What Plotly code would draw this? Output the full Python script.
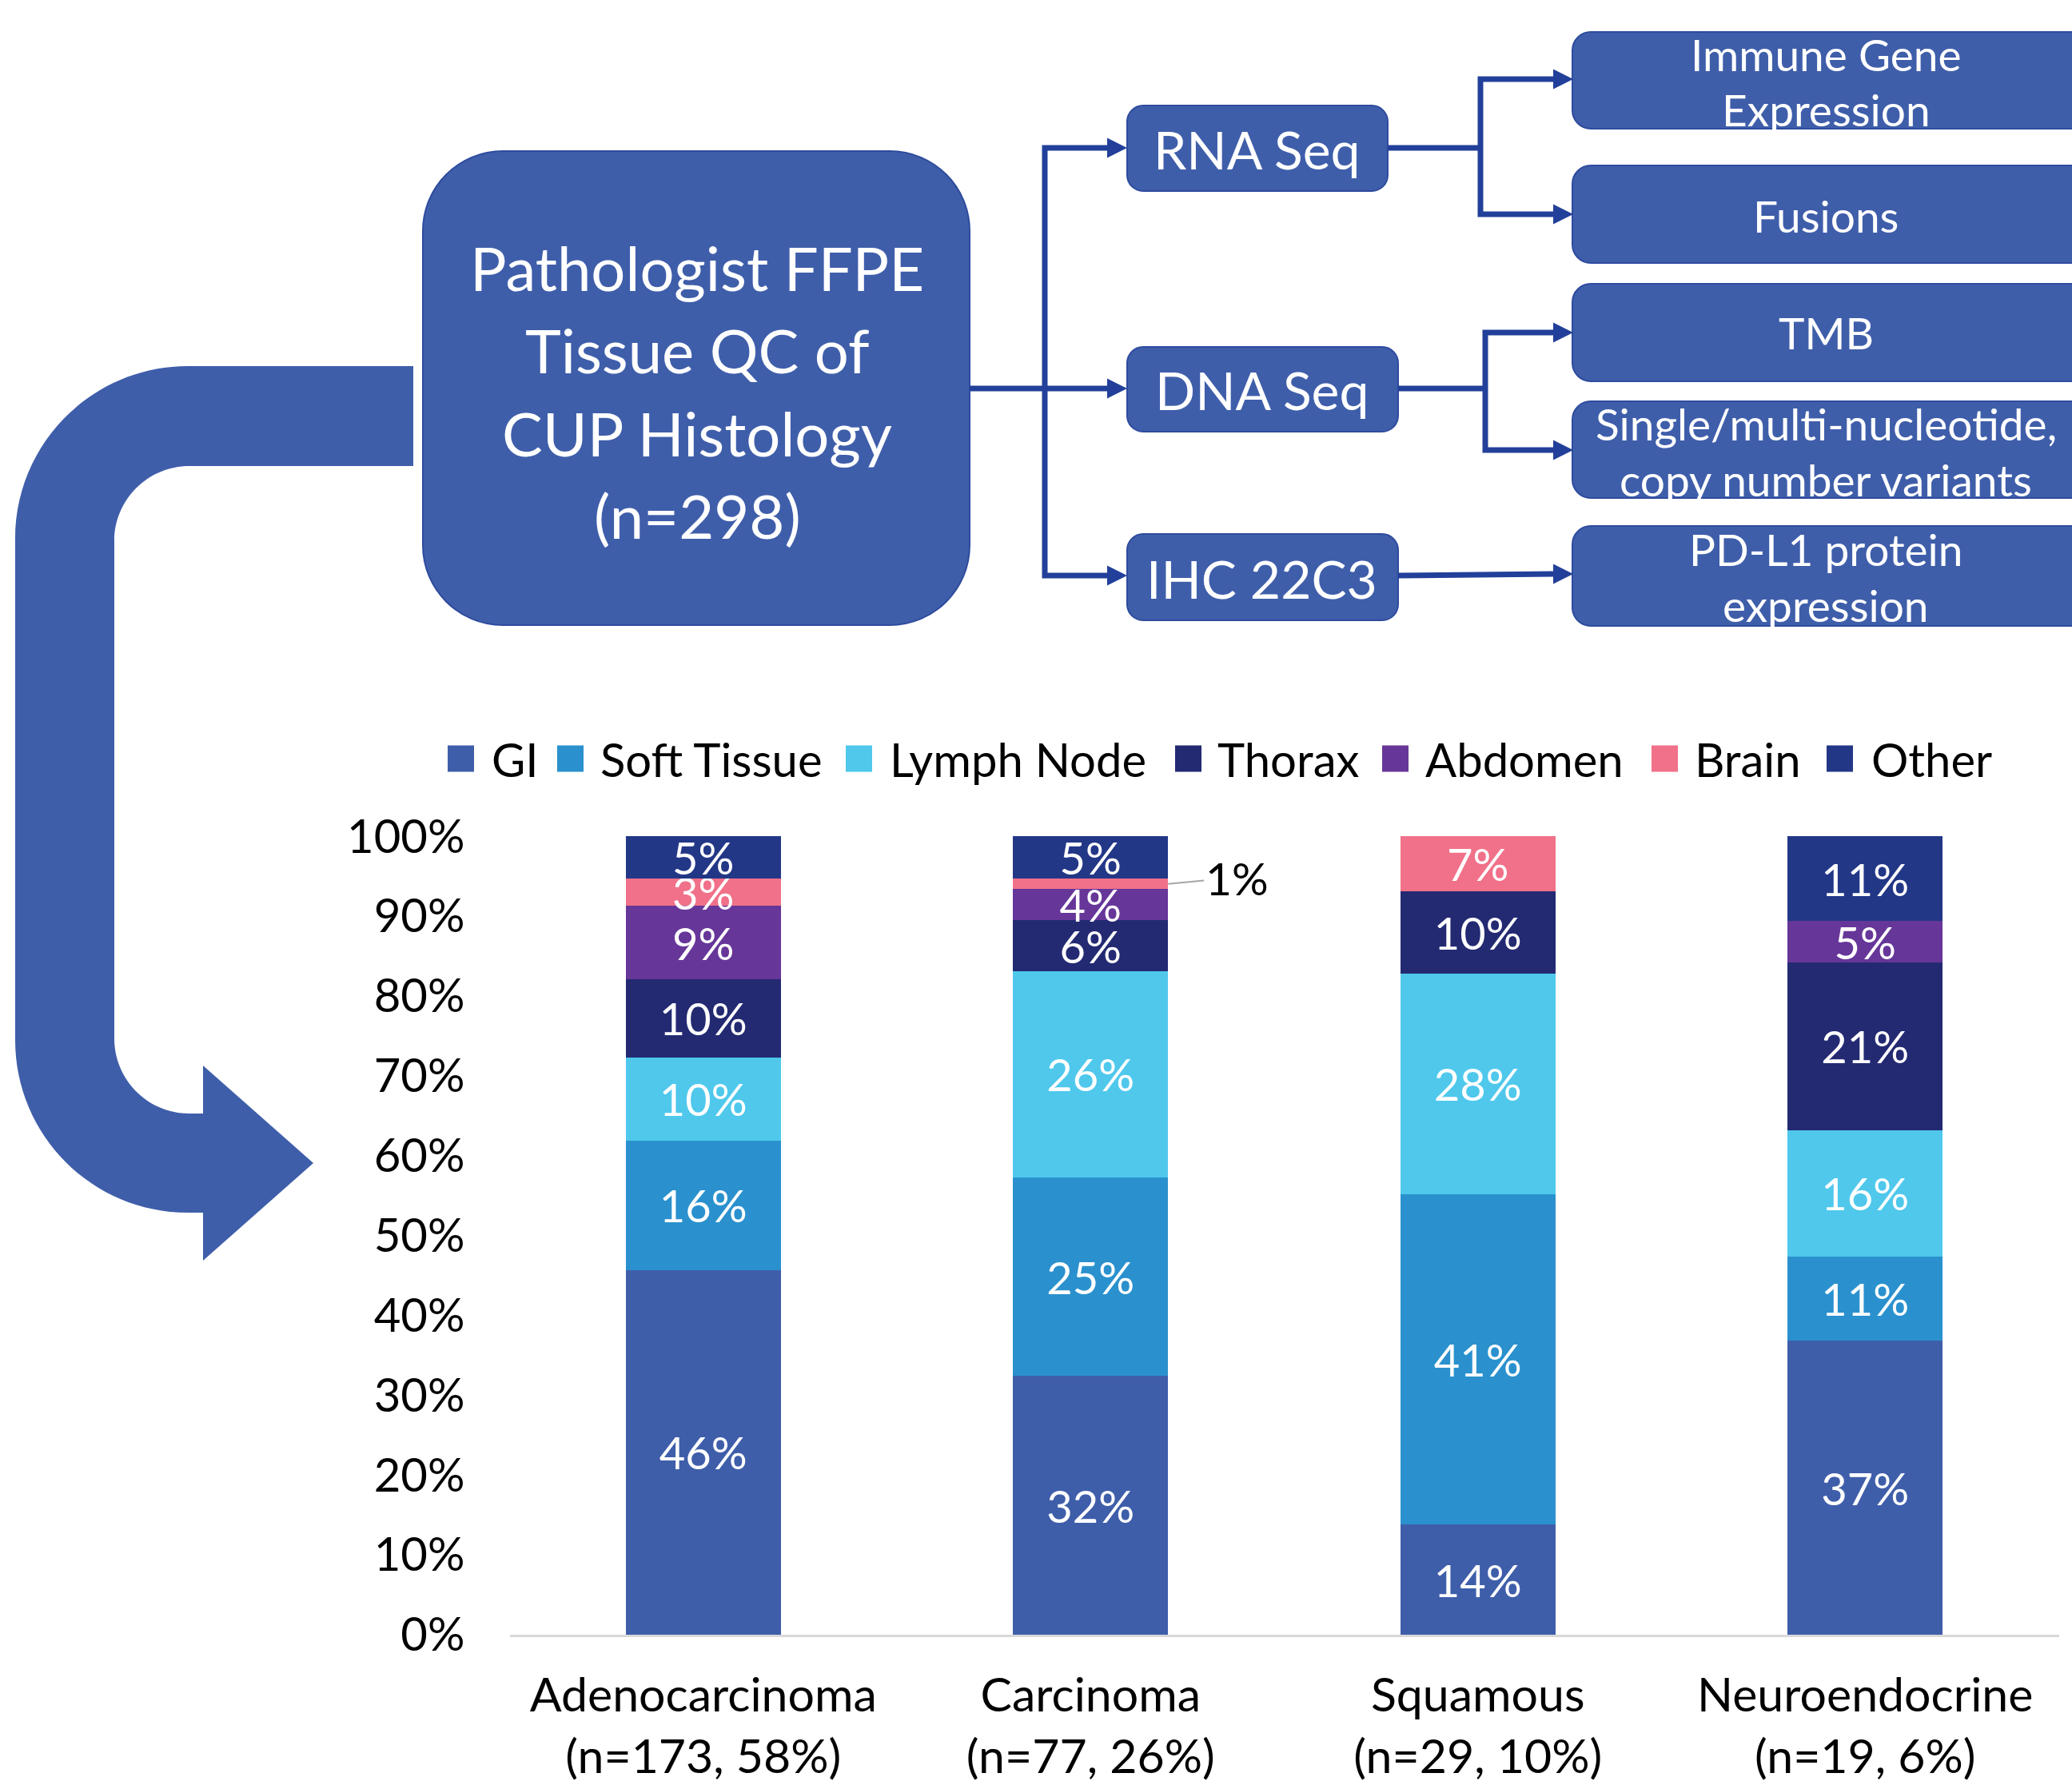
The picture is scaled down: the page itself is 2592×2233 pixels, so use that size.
import plotly.graph_objects as go

W, H = 2592, 2233
FONT = "Lato, Carlito, Calibri, sans-serif"

# ---------------- data ----------------
categories = ["Adenocarcinoma", "Carcinoma", "Squamous", "Neuroendocrine"]
category_counts = ["(n=173, 58%)", "(n=77, 26%)", "(n=29, 10%)", "(n=19, 6%)"]
sites = ["GI", "Soft Tissue", "Lymph Node", "Thorax", "Abdomen", "Brain", "Other"]
gi = [45.7, 32.4, 13.8, 36.8]
soft_tissue = [16.2, 24.9, 41.4, 10.6]
lymph_node = [10.4, 25.8, 27.6, 15.8]
thorax = [9.8, 6.4, 10.3, 21.0]
abdomen = [9.2, 3.9, 0.0, 5.2]
brain = [3.4, 1.3, 6.9, 0.0]
other = [5.3, 5.3, 0.0, 10.6]
y_ticks = [0, 10, 20, 30, 40, 50, 60, 70, 80, 90, 100]

main_box_lines = ["Pathologist FFPE", "Tissue QC of", "CUP Histology", "(n=298)"]
assay_labels = ["RNA Seq", "DNA Seq", "IHC 22C3"]
readout_labels = [["Immune Gene", "Expression"], ["Fusions"], ["TMB"],
                  ["Single/multi-nucleotide,", "copy number variants"],
                  ["PD-L1 protein", "expression"]]

# ---------------- styles ----------------
site_colors = ["#3F5EAA", "#2A91CE", "#4FC8EC", "#232A72", "#663699", "#F07189", "#233787"]
BOX = "#3F5EAA"
BOX_EDGE = "#2E4B9E"
LINK = "#22409A"

series = [gi, soft_tissue, lymph_node, thorax, abdomen, brain, other]

fig = go.Figure()
for name, vals, col in zip(sites, series, site_colors):
    texts = [f"{v:.0f}%" if v > 0 else "" for v in vals]
    if name == "Brain":
        texts[1] = ""  # labelled outside with a leader line
    fig.add_trace(go.Bar(
        name=name, x=categories, y=vals, marker=dict(color=col, line=dict(width=0)),
        text=texts, textposition="inside", insidetextanchor="middle", textangle=0,
        constraintext="none", textfont=dict(family=FONT, size=56, color="white"),
        showlegend=False, hoverinfo="skip", cliponaxis=False,
    ))

# outside label for small brain segment of Carcinoma
brain_mid = gi[1] + soft_tissue[1] + lymph_node[1] + thorax[1] + abdomen[1] + brain[1] / 2
fig.add_annotation(x=1.2, y=brain_mid, xref="x", yref="y", text=f"{brain[1]:.0f}%",
                   showarrow=True, arrowhead=0, arrowwidth=2, arrowcolor="#A6A6A6",
                   ax=86, ay=-8, standoff=0, font=dict(family=FONT, size=57, color="black"))

x0d, x1d = 637.5 / W, 2575.5 / W
y0d, y1d = 1 - 2045 / H, 1 - 1046 / H

fig.update_layout(
    width=W, height=H, margin=dict(l=0, r=0, t=0, b=0, autoexpand=False),
    paper_bgcolor="white", plot_bgcolor="white",
    barmode="stack", bargap=0.6,
    font=dict(family=FONT, color="black"),
    xaxis=dict(domain=[x0d, x1d], tickvals=categories, automargin=False,
               ticktext=[f"{c}<br>{n}" for c, n in zip(categories, category_counts)],
               tickfont=dict(family=FONT, size=59, color="black"),
               showline=True, linecolor="#D9D9D9", linewidth=3, ticks="",
               showgrid=False, zeroline=False, ticklabelstandoff=22),
    yaxis=dict(domain=[y0d, y1d], range=[0, 100.02], tickvals=y_ticks, automargin=False,
               ticktext=[f"{t}%" for t in y_ticks],
               tickfont=dict(family=FONT, size=58, color="black"),
               showline=False, showgrid=False, zeroline=False, ticks="",
               ticklabelstandoff=55),
)


# ---------------- helpers for drawing in pixel space ----------------
def pt(x, y):
    return f"{x / W:.6f},{1 - y / H:.6f}"


def roundrect(x0, y0, x1, y1, r):
    k = 0.5523 * r
    return (f"M{pt(x0 + r, y0)} L{pt(x1 - r, y0)} "
            f"C{pt(x1 - r + k, y0)} {pt(x1, y0 + r - k)} {pt(x1, y0 + r)} "
            f"L{pt(x1, y1 - r)} C{pt(x1, y1 - r + k)} {pt(x1 - r + k, y1)} {pt(x1 - r, y1)} "
            f"L{pt(x0 + r, y1)} C{pt(x0 + r - k, y1)} {pt(x0, y1 - r + k)} {pt(x0, y1 - r)} "
            f"L{pt(x0, y0 + r)} C{pt(x0, y0 + r - k)} {pt(x0 + r - k, y0)} {pt(x0 + r, y0)} Z")


def add_path(path, fill=None, line_color=None, line_width=0):
    fig.add_shape(type="path", path=path, xref="paper", yref="paper",
                  fillcolor=fill if fill else "rgba(0,0,0,0)",
                  line=dict(color=line_color if line_color else "rgba(0,0,0,0)", width=line_width),
                  layer="above")


def add_text(x, y, text, size, color="white", anchor="center"):
    fig.add_annotation(x=x / W, y=1 - y / H, xref="paper", yref="paper", text=text,
                       showarrow=False, xanchor=anchor, yanchor="middle",
                       font=dict(family=FONT, size=size, color=color))


def arrowhead(tip_x, y, length=25, half=12.5):
    add_path(f"M{pt(tip_x - length, y - half)} L{pt(tip_x, y)} L{pt(tip_x - length, y + half)} Z",
             fill=LINK)


# ---------------- big curved arrow ----------------
k = 0.5523
ro, ri = 216, 94
big = (f"M{pt(517, 458)} L{pt(235, 458)} "
       f"C{pt(235 - k * ro, 458)} {pt(19, 674 - k * ro)} {pt(19, 674)} "
       f"L{pt(19, 1301)} C{pt(19, 1301 + k * ro)} {pt(235 - k * ro, 1517)} {pt(235, 1517)} "
       f"L{pt(254, 1517)} L{pt(254, 1577)} L{pt(392, 1455)} L{pt(254, 1333)} L{pt(254, 1393)} "
       f"L{pt(237, 1393)} C{pt(237 - k * ri, 1393)} {pt(143, 1299 + k * ri)} {pt(143, 1299)} "
       f"L{pt(143, 677)} C{pt(143, 677 - k * ri)} {pt(237 - k * ri, 583)} {pt(237, 583)} "
       f"L{pt(517, 583)} Z")
add_path(big, fill=BOX)

# ---------------- boxes ----------------
add_path(roundrect(529, 189, 1213, 782, 100), fill=BOX, line_color=BOX_EDGE, line_width=2)
for i, line in enumerate(main_box_lines):
    add_text(872, 334 + i * 103.5, line, 76)

assay_boxes = [(1410, 132, 1736, 239), (1410, 434, 1749, 540), (1410, 668, 1749, 776)]
for (bx0, by0, bx1, by1), lab in zip(assay_boxes, assay_labels):
    add_path(roundrect(bx0, by0, bx1, by1, 20), fill=BOX, line_color=BOX_EDGE, line_width=2)
    add_text((bx0 + bx1) / 2 - 1, (by0 + by1) / 2 + 1, lab, 66)

readout_boxes = [(40, 161), (207, 329), (355, 477), (502, 623), (658, 783)]
readout_line_y = [[68, 137], [270], [416], [530, 600], [687, 757]]
for (by0, by1), labs, ys in zip(readout_boxes, readout_labels, readout_line_y):
    add_path(roundrect(1967, by0, 2640, by1, 23), fill=BOX, line_color=BOX_EDGE, line_width=2)
    for lab, yy in zip(labs, ys):
        add_text(2284, yy, lab, 55)

# ---------------- connectors ----------------
LW = 7
add_path(f"M{pt(1385, 185)} L{pt(1307, 185)} L{pt(1307, 720)} L{pt(1385, 720)} "
         f"M{pt(1213, 486)} L{pt(1385, 486)}", line_color=LINK, line_width=LW)
for yy in (185, 486, 720):
    arrowhead(1410, yy)

add_path(f"M{pt(1943, 99)} L{pt(1852, 99)} L{pt(1852, 268)} L{pt(1943, 268)} "
         f"M{pt(1736, 185)} L{pt(1852, 185)}", line_color=LINK, line_width=LW)
arrowhead(1968, 99)
arrowhead(1968, 268)

add_path(f"M{pt(1943, 416)} L{pt(1858, 416)} L{pt(1858, 563)} L{pt(1943, 563)} "
         f"M{pt(1749, 486)} L{pt(1858, 486)}", line_color=LINK, line_width=LW)
arrowhead(1968, 416)
arrowhead(1968, 563)

add_path(f"M{pt(1749, 720)} L{pt(1943, 718)}", line_color=LINK, line_width=LW)
arrowhead(1968, 718)

# ---------------- legend ----------------
legend_marker_x = [560, 697, 1058, 1470, 1729, 2066, 2285]
legend_text_x = [613, 749, 1111, 1521, 1781, 2118, 2339]
LEG_Y, MS = 949, 33
for name, col, mx, tx in zip(sites, site_colors, legend_marker_x, legend_text_x):
    fig.add_shape(type="rect", xref="paper", yref="paper",
                  x0=mx / W, x1=(mx + MS) / W, y0=1 - (LEG_Y + MS / 2) / H, y1=1 - (LEG_Y - MS / 2) / H,
                  fillcolor=col, line=dict(width=0))
    add_text(tx, LEG_Y, name, 58, color="black", anchor="left")

fig.write_html("out.html")
